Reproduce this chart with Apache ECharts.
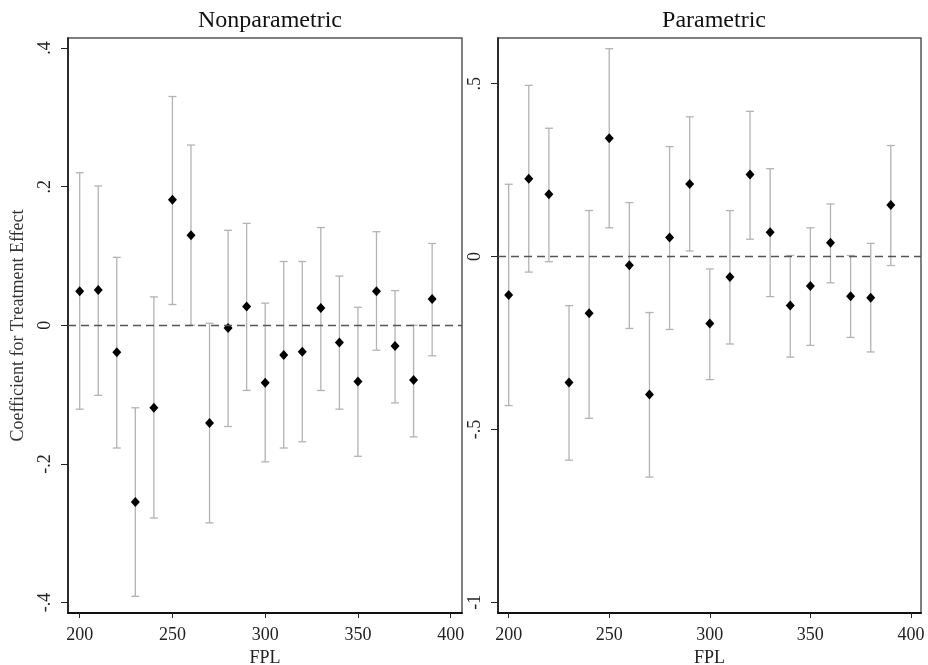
<!DOCTYPE html>
<html>
<head>
<meta charset="utf-8">
<script src="https://cdn.jsdelivr.net/npm/echarts@6/dist/echarts.min.js"></script>
<style>
  html, body { margin: 0; padding: 0; background: #fff; }
  #chart { width: 928px; height: 665px; }
</style>
</head>
<body>
<div id="chart"></div>
<script>
// FPL thresholds (x positions shared by both panels)
const fpl = [200, 210, 220, 230, 240, 250, 260, 270, 280, 290,
             300, 310, 320, 330, 340, 350, 360, 370, 380, 390];

// Nonparametric estimates with 95% confidence bounds
const npEst = [0.049, 0.051, -0.039, -0.255, -0.119, 0.181, 0.130, -0.141, -0.004, 0.027,
               -0.083, -0.043, -0.038, 0.025, -0.025, -0.081, 0.049, -0.030, -0.079, 0.038];
const npLo  = [-0.121, -0.101, -0.177, -0.391, -0.278, 0.030, 0.000, -0.285, -0.146, -0.094,
               -0.197, -0.177, -0.168, -0.094, -0.121, -0.189, -0.036, -0.112, -0.161, -0.044];
const npHi  = [0.220, 0.201, 0.098, -0.119, 0.041, 0.330, 0.260, 0.003, 0.137, 0.147,
               0.032, 0.092, 0.092, 0.141, 0.071, 0.026, 0.135, 0.050, 0.000, 0.118];

// Parametric estimates with 95% confidence bounds
const pEst = [-0.111, 0.225, 0.180, -0.364, -0.164, 0.342, -0.025, -0.399, 0.055, 0.210,
              -0.194, -0.059, 0.237, 0.070, -0.142, -0.085, 0.040, -0.115, -0.119, 0.149];
const pLo  = [-0.431, -0.045, -0.015, -0.589, -0.468, 0.083, -0.208, -0.638, -0.211, 0.016,
              -0.356, -0.253, 0.050, -0.116, -0.291, -0.257, -0.076, -0.234, -0.276, -0.026];
const pHi  = [0.209, 0.495, 0.371, -0.142, 0.133, 0.601, 0.156, -0.162, 0.318, 0.404,
              -0.036, 0.133, 0.420, 0.254, 0.003, 0.083, 0.152, 0.003, 0.038, 0.321];

// Tick values for each axis
const xTicks = [200, 250, 300, 350, 400];
const npTicks = [-0.4, -0.2, 0, 0.2, 0.4];
const pTicks = [-1, -0.5, 0, 0.5];

const FONT = '"Liberation Serif", "DejaVu Serif", serif';

// Stata-style number format: .4, -.2, 0, -1
function stataNum(v) {
  if (Math.abs(v) < 1e-9) return '0';
  let s = String(Math.round(v * 1000) / 1000);
  return s.replace(/^0\./, '.').replace(/^-0\./, '-.');
}

function ciData(lo, hi) {
  return fpl.map((x, i) => [x, lo[i], hi[i]]);
}
function ptData(est) {
  return fpl.map((x, i) => [x, est[i]]);
}

function renderCI(params, api) {
  const x = api.value(0);
  const a = api.coord([x, api.value(1)]);
  const b = api.coord([x, api.value(2)]);
  const w = 4;
  const style = { stroke: '#b3b3b3', lineWidth: 1.3, fill: null };
  return {
    type: 'group',
    children: [
      { type: 'line', shape: { x1: a[0], y1: a[1], x2: b[0], y2: b[1] }, style },
      { type: 'line', shape: { x1: a[0] - w, y1: a[1], x2: a[0] + w, y2: a[1] }, style },
      { type: 'line', shape: { x1: b[0] - w, y1: b[1], x2: b[0] + w, y2: b[1] }, style }
    ]
  };
}

function xAxisCfg(gridIndex, min, max) {
  return {
    type: 'value', gridIndex, min, max,
    name: 'FPL', nameLocation: 'middle', nameGap: 30,
    nameTextStyle: { fontFamily: FONT, fontSize: 18, color: '#222' },
    axisLine: { show: true, onZero: false, lineStyle: { color: '#111', width: 2 } },
    axisTick: { show: true, length: 5, customValues: xTicks, lineStyle: { color: '#222', width: 1 } },
    axisLabel: { customValues: xTicks, margin: 13, fontFamily: FONT, fontSize: 18, color: '#222', hideOverlap: false },
    splitLine: { show: false }
  };
}

function yAxisCfg(gridIndex, min, max, ticks, title) {
  return {
    type: 'value', gridIndex, min, max,
    name: title, nameLocation: 'middle', nameGap: 41,
    nameTextStyle: { fontFamily: FONT, fontSize: 18, color: '#333' },
    axisLine: { show: true, onZero: false, lineStyle: { color: '#111', width: 1.5 } },
    axisTick: { show: true, length: 7, customValues: ticks, lineStyle: { color: '#222', width: 1 } },
    axisLabel: {
      customValues: ticks, rotate: 90, margin: 14,
      fontFamily: FONT, fontSize: 18, color: '#222', hideOverlap: false,
      formatter: stataNum
    },
    splitLine: { show: false }
  };
}

const zeroLine = {
  silent: true,
  symbol: 'none',
  label: { show: false },
  lineStyle: { color: '#555', type: [8, 5], width: 1.3, opacity: 1 },
  emphasis: { disabled: true },
  data: [{ yAxis: 0 }]
};

const chart = echarts.init(document.getElementById('chart'), null, { renderer: 'canvas' });
chart.setOption({
  animation: false,
  backgroundColor: '#fff',
  title: [
    { text: 'Nonparametric', left: 265, top: 4, textAlign: 'center',
      textStyle: { fontFamily: FONT, fontSize: 24, fontWeight: 'normal', color: '#111' } },
    { text: 'Parametric', left: 709, top: 4, textAlign: 'center',
      textStyle: { fontFamily: FONT, fontSize: 24, fontWeight: 'normal', color: '#111' } }
  ],
  grid: [
    { left: 68, top: 38, width: 394, height: 575, outerBoundsMode: 'none', containLabel: false,
      show: true, borderColor: '#555', borderWidth: 1.5, backgroundColor: 'transparent' },
    { left: 498, top: 38, width: 423, height: 575, outerBoundsMode: 'none', containLabel: false,
      show: true, borderColor: '#555', borderWidth: 1.5, backgroundColor: 'transparent' }
  ],
  xAxis: [
    xAxisCfg(0, 193.7, 406.1),
    xAxisCfg(1, 194.7, 405.0)
  ],
  yAxis: [
    yAxisCfg(0, -0.415, 0.4144, npTicks, 'Coefficient for Treatment Effect'),
    yAxisCfg(1, -1.031, 0.632, pTicks, '')
  ],
  series: [
    { type: 'custom', xAxisIndex: 0, yAxisIndex: 0, renderItem: renderCI,
      encode: { x: 0, y: [1, 2] }, data: ciData(npLo, npHi), z: 1 },
    { type: 'scatter', xAxisIndex: 0, yAxisIndex: 0, symbol: 'diamond', symbolSize: [9, 10],
      itemStyle: { color: '#000', opacity: 1 }, data: ptData(npEst), markLine: zeroLine, z: 3 },
    { type: 'custom', xAxisIndex: 1, yAxisIndex: 1, renderItem: renderCI,
      encode: { x: 0, y: [1, 2] }, data: ciData(pLo, pHi), z: 1 },
    { type: 'scatter', xAxisIndex: 1, yAxisIndex: 1, symbol: 'diamond', symbolSize: [9, 10],
      itemStyle: { color: '#000', opacity: 1 }, data: ptData(pEst), markLine: zeroLine, z: 3 }
  ]
});
</script>
</body>
</html>
